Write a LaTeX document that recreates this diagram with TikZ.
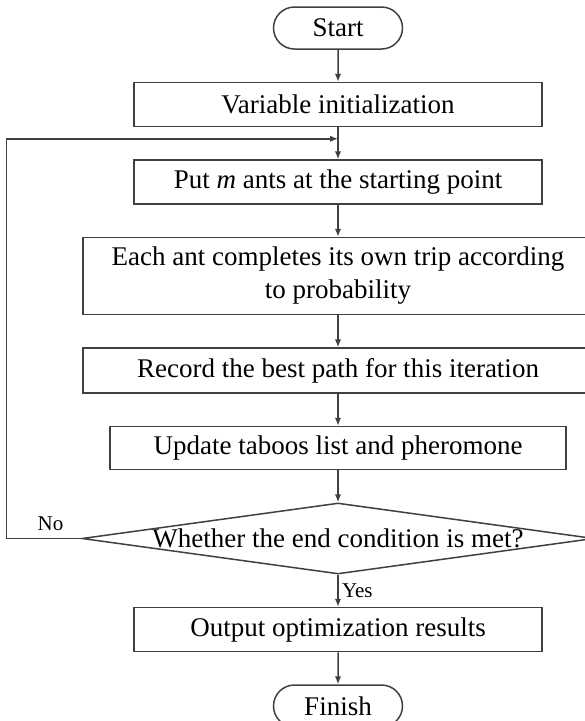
\documentclass[tikz,border=0pt]{standalone}
\usepackage{fontspec}
\setmainfont{Liberation Serif}
\usetikzlibrary{shapes.geometric,shapes.misc,arrows.meta,positioning,calc}
\tikzstyle{terminal} = [rounded rectangle, draw=black!75, line width=1.5pt,
    minimum width=129pt, minimum height=42pt, inner sep=0pt]
\tikzstyle{block} = [rectangle, draw=black!75, line width=1.5pt,
    minimum width=408pt, minimum height=44pt, inner sep=0pt, align=center]
\tikzstyle{decision} = [diamond, draw=black!75, line width=1.5pt,
    minimum width=512pt, minimum height=71pt, inner sep=0pt]
\tikzstyle{line} = [draw, line width=1.5pt, color=black!75, -{Latex[length=8pt,width=6.5pt]}]
\tikzstyle{tag} = [font=\fontsize{21}{25}\selectfont, text=black]

\begin{document}
\begin{tikzpicture}[node distance=32pt, font=\fontsize{27}{33}\selectfont]
    \useasboundingbox (0,0) rectangle (585pt,-721pt);
    % Place nodes
    \node [terminal] (start) at (338pt,-28pt) {Start};
    \node [block, below=of start] (init) {Variable initialization};
    \node [block, below=of init] (putAnts) {Put \textit{m} ants at the starting point};
    \node [block, below=of putAnts, minimum width=510pt, minimum height=77pt] (antTrip) {Each ant completes its own trip according\\ to probability};
    \node [block, below=of antTrip, minimum width=510pt, minimum height=45pt] (recordBest) {Record the best path for this iteration};
    \node [block, below=of recordBest, minimum width=456pt, minimum height=43pt] (update) {Update taboos list and pheromone};
    \node [decision, below=of update] (endCheck) {\makebox[0pt]{Whether the end condition is met?}};
    \node [block, below=of endCheck] (output) {Output optimization results};
    \node [terminal, below=of output] (finish) {Finish};
    \coordinate (loopIn) at ($(init.south)!0.36!(putAnts.north)$);

    % Draw edges
    \path [line] (start) -- (init);
    \path [line] (init) -- (putAnts);
    \path [line] (putAnts) -- (antTrip);
    \path [line] (antTrip) -- (recordBest);
    \path [line] (recordBest) -- (update);
    \path [line] (update) -- (endCheck.north);
    \path [line] (endCheck.south) -- node [tag, right] {Yes} (output);
    \path [line] (output) -- (finish);
    \path [line] (endCheck.west) -- node [tag, above, pos=0.41, yshift=4pt] {No} ++(-75pt,0) |- (loopIn);
\end{tikzpicture}
\end{document}
